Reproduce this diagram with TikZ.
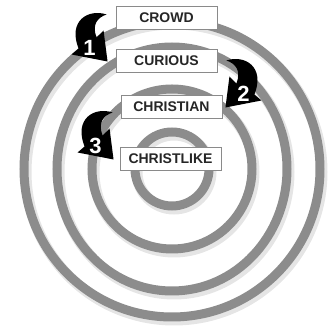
\documentclass[tikz,border=0pt]{standalone}
\usepackage{fontspec}
\newfontfamily\stagefont{Liberation Sans}
\usepackage{xcolor}
\usepackage{tikz}

\definecolor{ringgray}{HTML}{8C8C8C}
\definecolor{boxline}{HTML}{8A8A8A}

\tikzset{
  turn/.pic={
    \fill[black] (0,0) .. controls (-18,-6) and (-39,6) .. (-28,34)
      -- (-35,40) -- (1,47) -- (-3,16) -- (-10,23)
      .. controls (-15,10) and (-9,3) .. (0,0) -- cycle;
    \node[text=white, font=\stagefont\bfseries\fontsize{22}{22}\selectfont,
          inner sep=0pt] at (-17,33) {#1};
  }
}

\begin{document}
\begin{tikzpicture}[x=1pt, y=-1pt,
  ring/.style={draw=ringgray, line width=9pt},
  shade/.style={draw=black!10, line width=11pt},
  stage/.style={draw=boxline, line width=0.9pt, fill=white,
                text=black!85, inner sep=0pt,
                font=\stagefont\bfseries\fontsize{14}{16}\selectfont,
                minimum width=101pt, minimum height=23pt},
]
  \useasboundingbox (0,0) rectangle (333,328);

  % rings, faint shadow first
  \coordinate (c) at (172,169);
  \draw[shade] ([shift={(2,3)}]c) circle[radius=148];
  \draw[shade] ([shift={(2,3)}]c) ellipse[x radius=115, y radius=122];
  \draw[shade] ([shift={(2,3)}]c) circle[radius=80];
  \draw[shade] ([shift={(2,3)}]c) circle[radius=37];
  \draw[ring] (c) circle[radius=148];
  \draw[ring] (c) ellipse[x radius=115, y radius=122];
  \draw[ring] (c) circle[radius=80];
  \draw[ring] (c) circle[radius=37];

  \node[stage] (crowd)      at (166.5,17.5)  {CROWD};
  \node[stage] (curious)    at (166.5,60.5)  {CURIOUS};
  \node[stage] (christian)  at (171.5,106.5) {CHRISTIAN};
  \node[stage] (christlike) at (170.5,158.5) {CHRISTLIKE};

  % step arrows
  \pic at ([shift={(-9,-3)}]crowd.west) {turn=1};
  \pic[xscale=-1] at ([shift={(9,0)}]curious.east) {turn=2};
  \pic at ([shift={(-8,6)}]christian.west) {turn=3};
\end{tikzpicture}
\end{document}
